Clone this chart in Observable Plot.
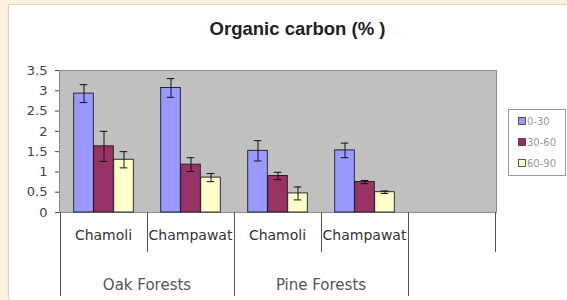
<!DOCTYPE html>
<html>
<head>
<meta charset="utf-8">
<script src="https://cdn.jsdelivr.net/npm/d3@7"></script>
<script src="https://cdn.jsdelivr.net/npm/@observablehq/plot@0.6"></script>
<style>
  html, body { margin: 0; padding: 0; background: #fdf2df; }
  #page { position: absolute; left: 9px; top: 5px; width: 558px; height: 295px; background: #fff;
          box-shadow: -1px -1px 1px rgba(0,0,0,0.12); overflow: hidden; }
  #title { box-sizing: border-box; height: 45px; padding-top: 14px; padding-left: 19px; text-align: center;
           font: bold 18.5px "Liberation Sans", Arial, sans-serif; line-height: 20px; color: #222; }
  #chart svg { display: block; }
</style>
</head>
<body>
<div id="page">
  <div id="title">Organic carbon (% )</div>
  <div id="chart"></div>
</div>
<script>
// ---- data ----
const categories = ["Chamoli", "Champawat", "Chamoli", "Champawat"];
const forests = ["Oak Forests", "Oak Forests", "Pine Forests", "Pine Forests"];
const depths = ["0-30", "30-60", "60-90"];
const mean0_30 = [2.93, 3.07, 1.52, 1.53];
const mean30_60 = [1.63, 1.18, 0.90, 0.75];
const mean60_90 = [1.30, 0.86, 0.47, 0.50];
const err0_30 = [0.22, 0.23, 0.25, 0.18];
const err30_60 = [0.37, 0.17, 0.09, 0.04];
const err60_90 = [0.20, 0.10, 0.16, 0.03];
const yTicks = [0, 0.5, 1, 1.5, 2, 2.5, 3, 3.5];
const colors = ["#9999ff", "#993366", "#ffffcc"];

const means = [mean0_30, mean30_60, mean60_90];
const errs = [err0_30, err30_60, err60_90];
const slots = categories.map((c, i) => forests[i] + "|" + c);
const xDomain = [...slots, "(empty)"];
const rows = depths.flatMap((d, j) => slots.map((s, i) => ({slot: s, depth: d, j, mean: means[j][i], err: errs[j][i]})));

const W = 558, H = 250, ML = 50, MR = 71, MT = 20, MB = 88;
const bw = (W - ML - MR) / xDomain.length;
const barW = 20, capW = 8;

const marks = [Plot.frame({fill: "#c0c0c0", stroke: "#8c8c8c"})];
depths.forEach((d, j) => {
  const data = rows.filter(r => r.j === j);
  const dx = (j - 1) * barW;
  marks.push(Plot.barY(data, {x: "slot", y: "mean", fill: colors[j], stroke: "#1a1a1a", strokeWidth: 0.9,
    insetLeft: (bw - barW) / 2, insetRight: (bw - barW) / 2, dx}));
});
depths.forEach((d, j) => {
  const data = rows.filter(r => r.j === j);
  const dx = (j - 1) * barW;
  marks.push(Plot.ruleX(data, {x: "slot", y1: r => r.mean - r.err, y2: r => r.mean + r.err, stroke: "#111", strokeWidth: 1, dx}));
  marks.push(Plot.tickY(data, {x: "slot", y: r => r.mean + r.err, stroke: "#111", insetLeft: (bw - capW) / 2, insetRight: (bw - capW) / 2, dx}));
  marks.push(Plot.tickY(data, {x: "slot", y: r => r.mean - r.err, stroke: "#111", insetLeft: (bw - capW) / 2, insetRight: (bw - capW) / 2, dx}));
});
marks.push(Plot.axisY({ticks: yTicks, tickSize: 4, tickPadding: 8, fontSize: 13, color: "#444", label: null, tickFormat: d => String(d)}));

const plot = Plot.plot({
  width: W, height: H,
  marginLeft: ML, marginRight: MR, marginTop: MT, marginBottom: MB,
  style: {fontFamily: "DejaVu Sans, sans-serif", background: "transparent", overflow: "visible"},
  x: {domain: xDomain, padding: 0, axis: null},
  y: {domain: [0, 3.5], axis: null},
  marks
});
document.getElementById("chart").appendChild(plot);

// ---- category axis (two levels) and legend, placed with the plot's own scales ----
const svg = d3.select(plot);
const xs = plot.scale("x");
const y0 = plot.scale("y").apply(0);
const bandw = xs.bandwidth;
const edges = xDomain.map(k => xs.apply(k)).concat([xs.apply(xDomain[xDomain.length - 1]) + bandw]);
const g = svg.append("g").attr("text-anchor", "middle");
// dividers: long at forest-group boundaries, short between districts
edges.forEach((e, i) => {
  const long = i === 0 || i === slots.length || (i > 0 && i < slots.length && forests[i] !== forests[i - 1]);
  g.append("line").attr("x1", Math.round(e) + 0.5).attr("x2", Math.round(e) + 0.5)
    .attr("y1", y0).attr("y2", long ? y0 + 84 : y0 + 40)
    .attr("stroke", "#555").attr("stroke-width", 1);
});
slots.forEach((s, i) => {
  g.append("text").attr("x", xs.apply(s) + bandw / 2).attr("y", y0 + 28)
    .attr("text-anchor", "middle").attr("font-size", 14).attr("fill", "#333")
    .text(categories[i]);
});
const groups = [...new Set(forests)];
groups.forEach(f => {
  const idx = forests.map((v, i) => v === f ? i : -1).filter(i => i >= 0);
  const x1 = xs.apply(slots[idx[0]]), x2 = xs.apply(slots[idx[idx.length - 1]]) + bandw;
  g.append("text").attr("x", (x1 + x2) / 2).attr("y", y0 + 78)
    .attr("text-anchor", "middle").attr("font-size", 15).attr("fill", "#555")
    .text(f);
});
// legend
const lg = svg.append("g").attr("transform", "translate(499,59)").attr("text-anchor", "start");
lg.append("rect").attr("x", 0.5).attr("y", 0.5).attr("width", 57).attr("height", 66)
  .attr("fill", "#fff").attr("stroke", "#999");
depths.forEach((d, j) => {
  const cy = 12 + j * 21;
  lg.append("rect").attr("x", 10.5).attr("y", cy - 3.5).attr("width", 7).attr("height", 7)
    .attr("fill", colors[j]).attr("stroke", "#333").attr("stroke-width", 0.8);
  lg.append("text").attr("x", 19).attr("y", cy + 3.5).attr("text-anchor", "start")
    .attr("font-size", 10).attr("fill", "#999").text(d);
});
</script>
</body>
</html>
